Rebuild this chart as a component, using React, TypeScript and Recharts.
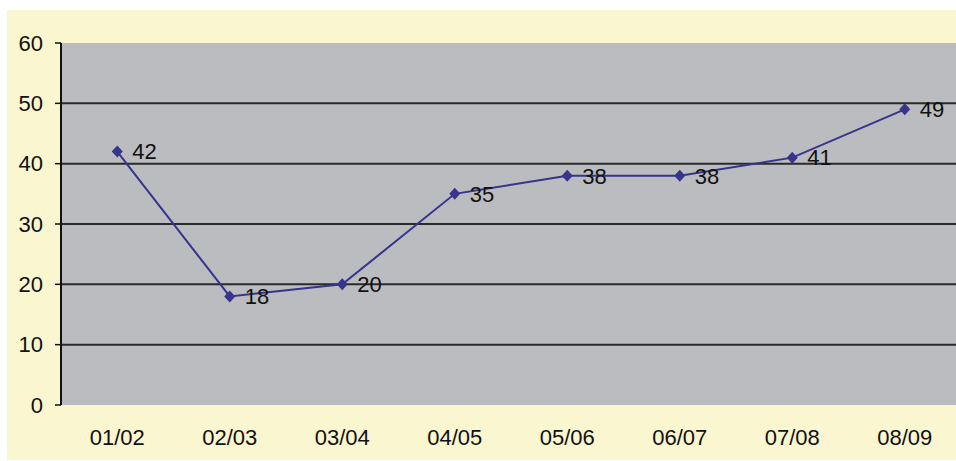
import React from 'react';
import { LineChart, Line, XAxis, YAxis, CartesianGrid, ReferenceLine, LabelList } from 'recharts';

const categories = ['01/02', '02/03', '03/04', '04/05', '05/06', '06/07', '07/08', '08/09'];
const values = [42, 18, 20, 35, 38, 38, 41, 49];
const yTicks = [0, 10, 20, 30, 40, 50, 60];
const gridLines = [10, 20, 30, 40, 50];

const data = categories.map((c, i) => ({ pos: i + 0.5, name: c, value: values[i] }));
const boundaryTicks = categories.map((_, i) => i).concat([categories.length]);
const centerTicks = categories.map((_, i) => i + 0.5);

const FONT = 'Liberation Sans, Arial, sans-serif';
const LINE_COLOR = '#36348C';

const Diamond = (props: any) => {
  const { cx, cy, index } = props;
  if (cx == null || cy == null) return <g key={index} />;
  return (
    <polygon
      key={index}
      points={`${cx},${cy - 6} ${cx + 5.5},${cy} ${cx},${cy + 6} ${cx - 5.5},${cy}`}
      fill={LINE_COLOR}
    />
  );
};

export default function App() {
  return (
    <div style={{ position: 'absolute', left: 0, top: 0, width: 956, height: 461, overflow: 'hidden', background: '#ffffff' }}>
      <div style={{ position: 'absolute', left: 7, top: 10, width: 949, height: 450, overflow: 'hidden', background: '#FAF6D0' }}>
        <LineChart width={960} height={450} data={data} margin={{ top: 33, right: 6, bottom: 0, left: 0 }}>
          <CartesianGrid fill="#BABCBF" horizontal={false} vertical={false} />
          {gridLines.map((v) => (
            <ReferenceLine key={v} y={v} stroke="#2a2a2a" strokeWidth={2} />
          ))}
          <XAxis
            xAxisId="ticks"
            dataKey="pos"
            type="number"
            domain={[0, categories.length]}
            ticks={boundaryTicks}
            tick={false}
            tickSize={7}
            height={0}
            axisLine={{ stroke: '#111', strokeWidth: 2 }}
            tickLine={{ stroke: '#111', strokeWidth: 1.5 }}
          />
          <XAxis
            xAxisId="labels"
            dataKey="pos"
            type="number"
            domain={[0, categories.length]}
            ticks={centerTicks}
            tickFormatter={(v: number) => categories[Math.floor(v)]}
            axisLine={false}
            tickLine={false}
            tickSize={0}
            tickMargin={24}
            height={55}
            tick={{ fill: '#111', fontSize: 22, fontFamily: FONT }}
          />
          <YAxis
            domain={[0, 60]}
            ticks={yTicks}
            width={54}
            tickSize={6}
            tickMargin={12}
            axisLine={{ stroke: '#111', strokeWidth: 2 }}
            tickLine={{ stroke: '#111', strokeWidth: 1.5 }}
            tick={{ fill: '#111', fontSize: 22, fontFamily: FONT }}
          />
          <Line
            xAxisId="labels"
            dataKey="value"
            stroke={LINE_COLOR}
            strokeWidth={2}
            dot={Diamond}
            activeDot={false}
            isAnimationActive={false}
          >
            <LabelList dataKey="value" position="right" offset={15} fill="#111" fontSize={22} fontFamily={FONT} />
          </Line>
        </LineChart>
      </div>
    </div>
  );
}
